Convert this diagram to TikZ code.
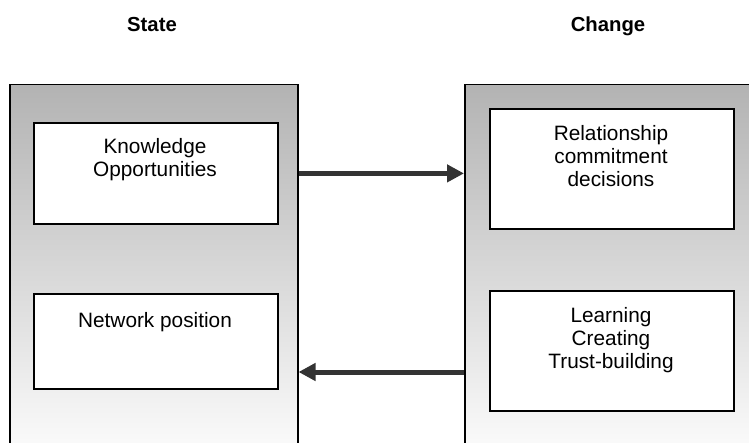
\documentclass[tikz,border=0pt]{standalone}
\usepackage{fontspec}
\setmainfont{Liberation Sans}
\usetikzlibrary{arrows.meta}
\definecolor{paneltop}{RGB}{179,179,179}
\definecolor{panelbot}{RGB}{250,250,250}
\definecolor{arrowcol}{RGB}{51,51,51}
\begin{document}
\begin{tikzpicture}[x=1pt,y=-1pt,
  panel/.style={draw=black, line width=1.5pt, top color=paneltop, bottom color=panelbot, anchor=north west, inner sep=0pt},
  box/.style={draw=black, line width=1.8pt, fill=white, anchor=north west, inner sep=0pt, minimum width=244pt},
  boxtext/.style={anchor=north, inner sep=0pt, align=center, font=\fontsize{20.8}{23}\selectfont},
  title/.style={anchor=base, inner sep=0pt, font=\bfseries\fontsize{20.3}{24}\selectfont},
  flow/.style={draw=arrowcol, line width=5pt, -{Triangle[length=17pt,width=17pt]}}]
\useasboundingbox (0,0) rectangle (749,443);
\clip (0,0) rectangle (749,443);
% panels
\node[panel, minimum width=288pt, minimum height=361pt] (lp) at (9,84) {};
\node[panel, minimum width=288pt, minimum height=361pt] (rp) at (464,84) {};
% titles
\node[title] (st) at (152,32) {State};
\node[title] (ch) at (608,32) {Change};
% boxes
\node[box, minimum height=101pt] (k) at (33,122) {};
\node[box, minimum height=95pt] (np) at (33,293) {};
\node[box, minimum height=120pt] (rc) at (489,108) {};
\node[box, minimum height=120pt] (lc) at (489,290) {};
% box texts
\node[boxtext] (kt) at (155,138) {Knowledge\\Opportunities};
\node[boxtext] (npt) at (155,312) {Network position};
\node[boxtext] (rct) at (611,125) {Relationship\\commitment\\decisions};
\node[boxtext] (lct) at (611,307) {Learning\\Creating\\Trust-building};
% arrows
\coordinate (a2) at (380,372);
\draw[flow] (k.east -| lp.east) -- (k.east -| rp.west);
\draw[flow] (a2 -| rp.west) -- (a2 -| lp.east);
\end{tikzpicture}
\end{document}
